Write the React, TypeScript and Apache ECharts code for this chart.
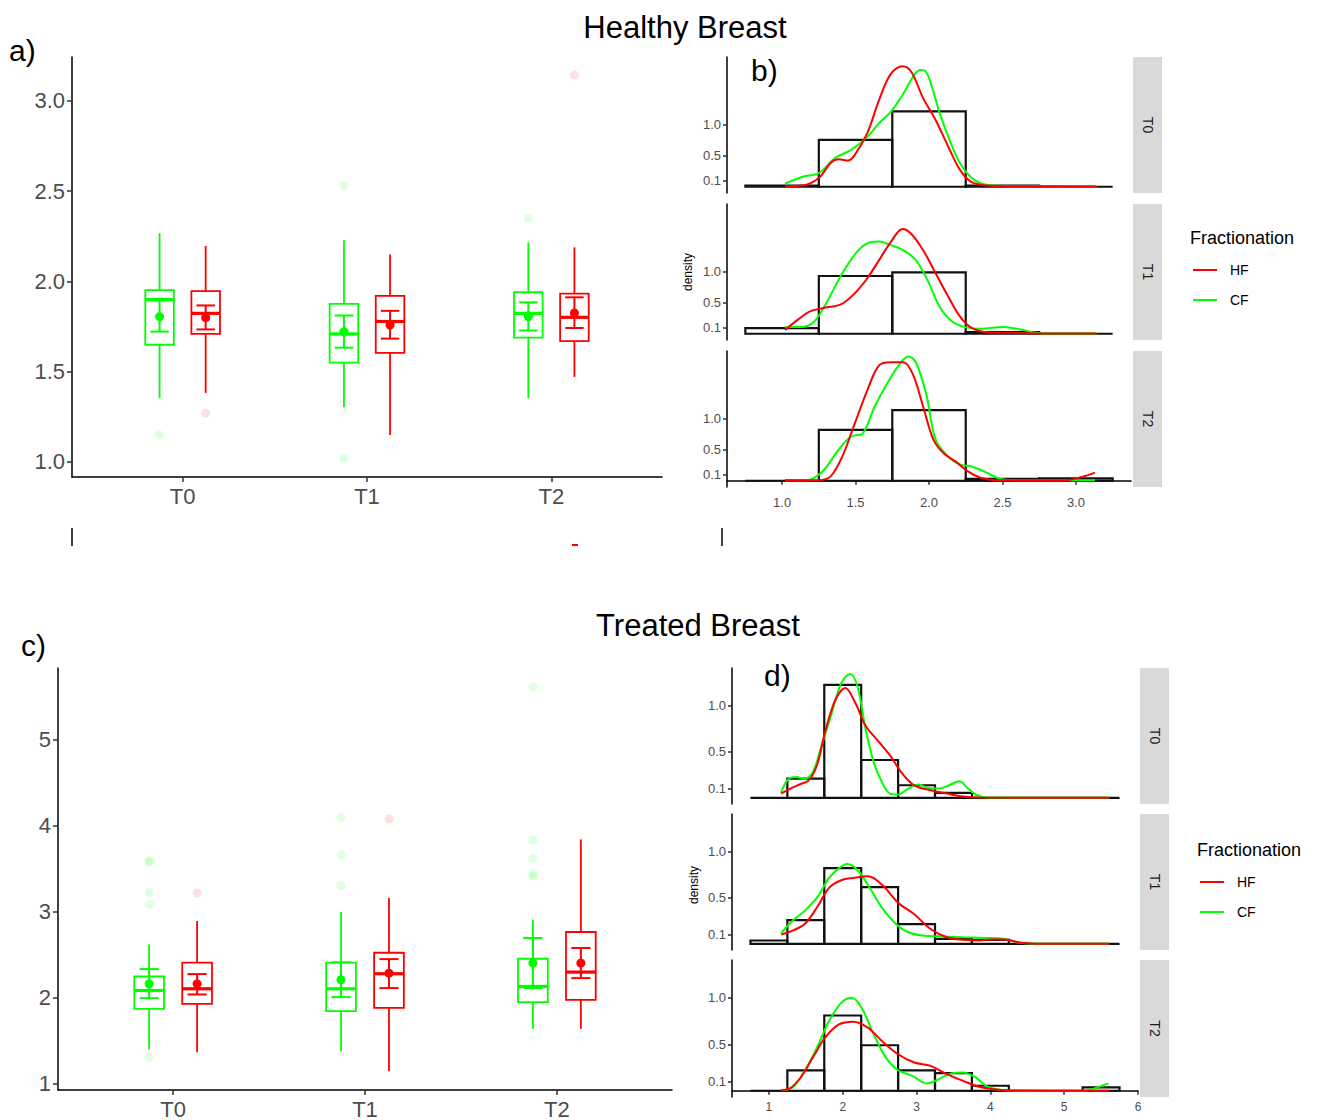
import React, { useEffect, useRef } from "react";
import * as echarts from "echarts";

const GREEN = "#00ff00";
const RED = "#ff0000";
const FONT = "Liberation Sans, Arial, sans-serif";

const timepoints = ["T0", "T1", "T2"];
const fractionations = ["HF", "CF"];

// Box stats per time point: [low whisker, q1, median, q3, high whisker, mean, err low, err high]
const healthyCF = [
  [1.352, 1.648, 1.899, 1.951, 2.267, 1.804, 1.721, 1.893],
  [1.302, 1.549, 1.708, 1.875, 2.227, 1.721, 1.632, 1.81],
  [1.352, 1.688, 1.822, 1.939, 2.215, 1.804, 1.727, 1.883],
];
const healthyHF = [
  [1.381, 1.708, 1.822, 1.945, 2.196, 1.798, 1.733, 1.866],
  [1.148, 1.603, 1.777, 1.919, 2.148, 1.757, 1.682, 1.836],
  [1.47, 1.668, 1.8, 1.931, 2.188, 1.824, 1.741, 1.911],
];
const healthyCFOutliers = [[1.148], [2.532, 1.02], [2.35]];
const healthyHFOutliers = [[1.269], [], [3.144]];

const treatedCF = [
  [1.40, 1.874, 2.087, 2.25, 2.623, 2.165, 1.998, 2.336],
  [1.381, 1.847, 2.107, 2.41, 3.0, 2.212, 2.01, 2.414],
  [1.641, 1.951, 2.134, 2.456, 2.911, 2.406, 2.115, 2.697],
];
const treatedHF = [
  [1.369, 1.932, 2.107, 2.41, 2.895, 2.165, 2.041, 2.278],
  [1.148, 1.885, 2.282, 2.526, 3.163, 2.289, 2.115, 2.452],
  [1.641, 1.979, 2.301, 2.767, 3.843, 2.406, 2.231, 2.581],
];
const treatedCFOutliers = [[3.6, 3.58, 3.225, 3.089, 1.311], [4.099, 3.668, 3.307], [5.614, 3.835, 3.621, 3.447, 3.416]];
const treatedHFOutliers = [[3.221], [4.08], []];

// Histograms (density scale)
const histEdgesB = [0.75, 1.25, 1.75, 2.25, 2.75, 3.25];
const histB_T0 = [0.02, 0.75, 1.21, 0.02, 0];
const histB_T1 = [0.09, 0.926, 0.984, 0.026, 0];
const histB_T2 = [0, 0.815, 1.132, 0.03, 0.037];

const histEdgesD = [0.75, 1.25, 1.75, 2.25, 2.75, 3.25, 3.75, 4.25, 4.75, 5.25, 5.75];
const histD_T0 = [0, 0.207, 1.225, 0.41, 0.136, 0.054, 0, 0, 0, 0];
const histD_T1 = [0.036, 0.257, 0.82, 0.614, 0.214, 0.054, 0.043, 0, 0, 0];
const histD_T2 = [0, 0.22, 0.81, 0.49, 0.22, 0.19, 0.054, 0, 0, 0.036];

// Density curves [x, density]
const densB_T0_HF = [[1.02,0.01],[1.14,0.02],[1.25,0.14],[1.33,0.38],[1.385,0.44],[1.45,0.42],[1.495,0.51],[1.58,0.86],[1.66,1.39],[1.74,1.81],[1.82,1.93],[1.88,1.84],[1.96,1.42],[2.045,1.07],[2.13,0.65],[2.21,0.275],[2.29,0.074],[2.4,0.02],[2.51,0.01],[3.14,0.005]];
const densB_T0_CF = [[1.02,0.05],[1.14,0.16],[1.25,0.22],[1.36,0.46],[1.47,0.59],[1.58,0.8],[1.66,1.02],[1.74,1.2],[1.825,1.49],[1.89,1.76],[1.94,1.87],[1.98,1.84],[2.02,1.6],[2.07,1.2],[2.14,0.75],[2.21,0.38],[2.29,0.14],[2.36,0.05],[2.44,0.02],[2.57,0.01],[3.14,0.005]];
const densB_T1_HF = [[1.02,0.06],[1.11,0.23],[1.19,0.36],[1.275,0.41],[1.4,0.47],[1.495,0.65],[1.58,0.89],[1.66,1.18],[1.74,1.47],[1.82,1.68],[1.88,1.6],[1.96,1.34],[2.045,0.97],[2.13,0.6],[2.21,0.28],[2.29,0.095],[2.4,0.026],[2.57,0.016],[2.73,0.005],[3.14,0.003]];
const densB_T1_CF = [[1.02,0.11],[1.14,0.11],[1.22,0.2],[1.3,0.49],[1.41,0.97],[1.52,1.34],[1.605,1.47],[1.66,1.48],[1.74,1.42],[1.825,1.34],[1.91,1.18],[1.99,0.86],[2.07,0.44],[2.155,0.2],[2.24,0.11],[2.35,0.08],[2.51,0.11],[2.62,0.07],[2.73,0.016],[2.84,0.005],[3.14,0.003]];
const densB_T2_HF = [[1.02,0.01],[1.25,0.01],[1.33,0.07],[1.41,0.39],[1.495,0.92],[1.58,1.45],[1.66,1.85],[1.74,1.9],[1.825,1.9],[1.89,1.71],[1.96,1.19],[2.03,0.66],[2.1,0.44],[2.18,0.31],[2.265,0.15],[2.35,0.05],[2.46,0.01],[2.93,0.01],[3.04,0.06],[3.13,0.13]];
const densB_T2_CF = [[1.02,0.01],[1.165,0.01],[1.275,0.15],[1.385,0.5],[1.47,0.71],[1.55,0.76],[1.63,1.19],[1.715,1.56],[1.8,1.87],[1.86,1.99],[1.91,1.9],[1.98,1.4],[2.045,0.66],[2.13,0.39],[2.21,0.26],[2.29,0.23],[2.375,0.15],[2.485,0.03],[2.6,0.01],[3.13,0.01]];

const densD_T0_HF = [[1.165,0.046],[1.29,0.1],[1.43,0.15],[1.54,0.19],[1.65,0.35],[1.76,0.71],[1.9,1.06],[2.035,1.19],[2.17,1.03],[2.31,0.78],[2.475,0.62],[2.64,0.46],[2.81,0.26],[2.97,0.136],[3.19,0.082],[3.41,0.046],[3.63,0.014],[3.85,0.003],[5.61,0]];
const densD_T0_CF = [[1.165,0.057],[1.26,0.2],[1.37,0.225],[1.48,0.207],[1.595,0.28],[1.7,0.53],[1.84,0.886],[1.98,1.243],[2.1,1.343],[2.2,1.207],[2.31,0.743],[2.42,0.386],[2.53,0.171],[2.64,0.046],[2.75,0.036],[2.89,0.1],[3.03,0.143],[3.16,0.107],[3.3,0.1],[3.44,0.136],[3.58,0.179],[3.69,0.107],[3.8,0.036],[3.96,0.003],[5.61,0]];
const densD_T1_HF = [[1.165,0.1],[1.32,0.143],[1.485,0.214],[1.65,0.393],[1.815,0.607],[1.98,0.689],[2.145,0.714],[2.34,0.732],[2.53,0.643],[2.75,0.446],[2.97,0.321],[3.19,0.16],[3.41,0.071],[3.63,0.043],[3.85,0.036],[4.07,0.05],[4.24,0.043],[4.4,0.014],[4.62,0.002],[5.61,0]];
const densD_T1_CF = [[1.165,0.114],[1.32,0.25],[1.485,0.357],[1.65,0.5],[1.815,0.714],[1.95,0.82],[2.06,0.864],[2.2,0.8],[2.365,0.607],[2.53,0.393],[2.7,0.232],[2.86,0.136],[3.08,0.089],[3.36,0.079],[3.63,0.071],[3.91,0.064],[4.18,0.054],[4.35,0.018],[4.57,0.002],[5.61,0]];
const densD_T2_HF = [[1.165,0.005],[1.29,0.029],[1.43,0.143],[1.595,0.357],[1.76,0.571],[1.95,0.714],[2.145,0.743],[2.34,0.679],[2.53,0.536],[2.75,0.393],[2.97,0.304],[3.19,0.268],[3.41,0.179],[3.63,0.107],[3.85,0.043],[4.07,0.014],[4.29,0.002],[5.61,0]];
const densD_T2_CF = [[1.165,0.005],[1.32,0.036],[1.485,0.214],[1.65,0.464],[1.815,0.75],[1.98,0.946],[2.12,1.0],[2.255,0.893],[2.42,0.607],[2.585,0.357],[2.75,0.221],[2.94,0.161],[3.14,0.079],[3.3,0.125],[3.47,0.186],[3.63,0.196],[3.8,0.143],[3.96,0.043],[4.18,0.007],[4.46,0],[5.28,0],[5.45,0.036],[5.6,0.079]];

const boxTicksA = [1, 1.5, 2, 2.5, 3];
const boxTicksC = [1, 2, 3, 4, 5];
const densTicks = [0.1, 0.5, 1.0];
const xTicksB = [1, 1.5, 2, 2.5, 3];
const xTicksD = [1, 2, 3, 4, 5, 6];

const BOX_W = 0.155;
const CAP_W = 0.1;
const DODGE = 0.125;

const makeBoxRenderer = (color: string) => (params: any, api: any) => {
  const x = api.value(0);
  const y = (i: number) => api.coord([x, api.value(i)])[1];
  const cx = api.coord([x, api.value(3)])[0];
  const half = api.size([BOX_W, 0])[0] / 2;
  const cap = api.size([CAP_W, 0])[0] / 2;
  const yLow = y(1), yQ1 = y(2), yMed = y(3), yQ3 = y(4), yHigh = y(5), yMean = y(6), yELo = y(7), yEHi = y(8);
  const ls = { stroke: color, lineWidth: 1.8 };
  return {
    type: "group",
    children: [
      { type: "line", shape: { x1: cx, y1: yHigh, x2: cx, y2: yQ3 }, style: ls },
      { type: "line", shape: { x1: cx, y1: yQ1, x2: cx, y2: yLow }, style: ls },
      { type: "rect", shape: { x: cx - half, y: yQ3, width: half * 2, height: yQ1 - yQ3 }, style: { stroke: color, lineWidth: 1.8, fill: "none" } },
      { type: "line", shape: { x1: cx - half, y1: yMed, x2: cx + half, y2: yMed }, style: { stroke: color, lineWidth: 3.2 } },
      { type: "line", shape: { x1: cx, y1: yEHi, x2: cx, y2: yELo }, style: { stroke: color, lineWidth: 2 } },
      { type: "line", shape: { x1: cx - cap, y1: yEHi, x2: cx + cap, y2: yEHi }, style: { stroke: color, lineWidth: 2 } },
      { type: "line", shape: { x1: cx - cap, y1: yELo, x2: cx + cap, y2: yELo }, style: { stroke: color, lineWidth: 2 } },
      { type: "circle", shape: { cx, cy: yMean, r: 4.5 }, style: { fill: color } },
    ],
  };
};

function boxSeries(stats: number[][], color: string, offset: number, axis: number) {
  return {
    type: "custom",
    xAxisIndex: axis,
    yAxisIndex: axis,
    silent: true,
    z: 3,
    dimensions: ["x", "low", "q1", "med", "q3", "high", "mean", "elo", "ehi"],
    encode: { x: 0, y: [1, 2, 3, 4, 5] },
    data: stats.map((s, i) => [i + 1 + offset, ...s]),
    renderItem: makeBoxRenderer(color),
  };
}

function outlierSeries(outs: number[][], color: string, offset: number, axis: number) {
  const data: number[][] = [];
  outs.forEach((arr, i) => arr.forEach((v) => data.push([i + 1 + offset, v])));
  return {
    type: "scatter",
    xAxisIndex: axis,
    yAxisIndex: axis,
    silent: true,
    z: 2,
    symbolSize: 9,
    itemStyle: { color, opacity: 0.12 },
    data,
  };
}

function histSeries(edges: number[], heights: number[], axis: number) {
  return {
    type: "custom",
    xAxisIndex: axis,
    yAxisIndex: axis,
    silent: true,
    z: 2,
    dimensions: ["x0", "x1", "h"],
    encode: { x: [0, 1], y: 2 },
    data: heights.map((h, i) => [edges[i], edges[i + 1], h]),
    renderItem: (params: any, api: any) => {
      const p0 = api.coord([api.value(0), 0]);
      const p1 = api.coord([api.value(1), api.value(2)]);
      return {
        type: "rect",
        shape: { x: p0[0], y: p1[1], width: p1[0] - p0[0], height: p0[1] - p1[1] },
        style: { stroke: "#111", lineWidth: 2.2, fill: "none" },
      };
    },
  };
}

function densSeries(data: number[][], color: string, axis: number, name: string) {
  return {
    type: "line",
    name,
    xAxisIndex: axis,
    yAxisIndex: axis,
    silent: true,
    z: 4,
    data,
    showSymbol: false,
    smooth: 0.35,
    lineStyle: { color, width: 2 },
    itemStyle: { color },
  };
}

const axisLine = { show: true, lineStyle: { color: "#000", width: 1.5 } };
const tickStyle = { lineStyle: { color: "#333", width: 1.5 } };

function boxXAxis(grid: number) {
  return {
    gridIndex: grid,
    type: "value",
    min: 0.4,
    max: 3.6,
    axisLine,
    splitLine: { show: false },
    axisTick: { show: true, length: 5, customValues: [1, 2, 3], ...tickStyle },
    axisLabel: {
      customValues: [1, 2, 3],
      formatter: (v: number) => timepoints[Math.round(v) - 1],
      fontSize: 22,
      color: "#4d4d4d",
      fontFamily: FONT,
      margin: 8,
    },
  };
}

function boxYAxis(grid: number, min: number, max: number, ticks: number[], digits: number) {
  return {
    gridIndex: grid,
    type: "value",
    min,
    max,
    axisLine,
    splitLine: { show: false },
    axisTick: { show: true, length: 5, customValues: ticks, ...tickStyle },
    axisLabel: {
      customValues: ticks,
      formatter: (v: number) => v.toFixed(digits),
      fontSize: 22,
      color: "#4d4d4d",
      fontFamily: FONT,
      margin: 7,
    },
  };
}

function facetXAxis(grid: number, min: number, max: number, ticks: number[] | null, digits: number, margin = 9, size = 13) {
  if (!ticks) {
    return { gridIndex: grid, type: "value", min, max, show: false, splitLine: { show: false } };
  }
  return {
    gridIndex: grid,
    type: "value",
    min,
    max,
    axisLine,
    splitLine: { show: false },
    axisTick: { show: true, length: 4, customValues: ticks, ...tickStyle },
    axisLabel: {
      customValues: ticks,
      formatter: (v: number) => v.toFixed(digits),
      fontSize: size,
      color: "#4d4d4d",
      fontFamily: FONT,
      margin,
    },
  };
}

function facetYAxis(grid: number, min: number, max: number) {
  return {
    gridIndex: grid,
    type: "value",
    min,
    max,
    axisLine,
    splitLine: { show: false },
    axisTick: { show: true, length: 4, customValues: densTicks, ...tickStyle },
    axisLabel: {
      customValues: densTicks,
      formatter: (v: number) => v.toFixed(1),
      fontSize: 13,
      color: "#4d4d4d",
      fontFamily: FONT,
      margin: 6,
    },
  };
}

function txt(text: string, x: number, y: number, size: number, extra: any = {}) {
  return {
    type: "text",
    x,
    y,
    silent: true,
    style: {
      text,
      fontSize: size,
      fontFamily: FONT,
      fill: extra.fill || "#000",
      textAlign: extra.align || "left",
      textVerticalAlign: "middle",
    },
    rotation: extra.rotation || 0,
  };
}

function strip(x: number, y: number, w: number, h: number, label: string) {
  return [
    { type: "rect", silent: true, shape: { x, y, width: w, height: h }, style: { fill: "#d9d9d9" } },
    {
      type: "text",
      silent: true,
      x: x + w / 2,
      y: y + h / 2,
      rotation: -Math.PI / 2,
      style: { text: label, fontSize: 14, fontFamily: FONT, fill: "#1a1a1a", textAlign: "center", textVerticalAlign: "middle" },
    },
  ];
}

function legend(x: number, y: number) {
  return [
    txt("Fractionation", x, y, 18),
    { type: "line", silent: true, shape: { x1: x + 3, y1: y + 32, x2: x + 27, y2: y + 32 }, style: { stroke: RED, lineWidth: 2 } },
    txt(fractionations[0], x + 40, y + 32, 14),
    { type: "line", silent: true, shape: { x1: x + 3, y1: y + 62, x2: x + 27, y2: y + 62 }, style: { stroke: GREEN, lineWidth: 2 } },
    txt(fractionations[1], x + 40, y + 62, 14),
  ];
}

export default function App() {
  const ref = useRef<HTMLDivElement>(null);
  useEffect(() => {
    if (!ref.current) return;
    const chart = echarts.init(ref.current, undefined, { renderer: "svg" });
    const bMin = -0.1, bMax = 2.08;
    const dMin = -0.067, dMax = 1.407;
    const option: any = {
      animation: false,
      backgroundColor: "#fff",
      grid: [
        { left: 72, top: 57, width: 590, height: 420, outerBoundsMode: "none" },
        { left: 58, top: 668, width: 614, height: 422, outerBoundsMode: "none" },
        { left: 727, top: 57, width: 404, height: 136, outerBoundsMode: "none" },
        { left: 727, top: 204, width: 404, height: 136, outerBoundsMode: "none" },
        { left: 727, top: 351, width: 404, height: 136, outerBoundsMode: "none" },
        { left: 732, top: 668, width: 406, height: 136, outerBoundsMode: "none" },
        { left: 732, top: 814, width: 406, height: 136, outerBoundsMode: "none" },
        { left: 732, top: 960, width: 406, height: 137, outerBoundsMode: "none" },
      ],
      xAxis: [
        boxXAxis(0),
        boxXAxis(1),
        facetXAxis(2, 0.625, 3.375, null, 1),
        facetXAxis(3, 0.625, 3.375, null, 1),
        facetXAxis(4, 0.625, 3.375, xTicksB, 1),
        facetXAxis(5, 0.5, 6.0, null, 0),
        facetXAxis(6, 0.5, 6.0, null, 0),
        facetXAxis(7, 0.5, 6.0, xTicksD, 0, 4, 12),
      ],
      yAxis: [
        boxYAxis(0, 0.915, 3.243, boxTicksA, 1),
        boxYAxis(1, 0.93, 5.837, boxTicksC, 0),
        facetYAxis(2, bMin, bMax),
        facetYAxis(3, bMin, bMax),
        facetYAxis(4, bMin, bMax),
        facetYAxis(5, dMin, dMax),
        facetYAxis(6, dMin, dMax),
        facetYAxis(7, dMin, dMax),
      ],
      series: [
        outlierSeries(healthyCFOutliers, GREEN, -DODGE, 0),
        outlierSeries(healthyHFOutliers, RED, DODGE, 0),
        boxSeries(healthyCF, GREEN, -DODGE, 0),
        boxSeries(healthyHF, RED, DODGE, 0),
        outlierSeries(treatedCFOutliers, GREEN, -DODGE, 1),
        outlierSeries(treatedHFOutliers, RED, DODGE, 1),
        boxSeries(treatedCF, GREEN, -DODGE, 1),
        boxSeries(treatedHF, RED, DODGE, 1),
        histSeries(histEdgesB, histB_T0, 2),
        histSeries(histEdgesB, histB_T1, 3),
        histSeries(histEdgesB, histB_T2, 4),
        densSeries(densB_T0_CF, GREEN, 2, "CF"),
        densSeries(densB_T0_HF, RED, 2, "HF"),
        densSeries(densB_T1_CF, GREEN, 3, "CF"),
        densSeries(densB_T1_HF, RED, 3, "HF"),
        densSeries(densB_T2_CF, GREEN, 4, "CF"),
        densSeries(densB_T2_HF, RED, 4, "HF"),
        histSeries(histEdgesD, histD_T0, 5),
        histSeries(histEdgesD, histD_T1, 6),
        histSeries(histEdgesD, histD_T2, 7),
        densSeries(densD_T0_CF, GREEN, 5, "CF"),
        densSeries(densD_T0_HF, RED, 5, "HF"),
        densSeries(densD_T1_CF, GREEN, 6, "CF"),
        densSeries(densD_T1_HF, RED, 6, "HF"),
        densSeries(densD_T2_CF, GREEN, 7, "CF"),
        densSeries(densD_T2_HF, RED, 7, "HF"),
      ],
      graphic: [
        txt("Healthy Breast", 685, 27, 31, { align: "center" }),
        txt("Treated Breast", 698, 625, 31, { align: "center" }),
        txt("a)", 9, 50, 30),
        txt("b)", 751, 70, 30),
        txt("c)", 21, 645, 30),
        txt("d)", 764, 675, 30),
        txt("density", 688, 272, 12, { align: "center", rotation: Math.PI / 2 }),
        txt("density", 694, 885, 12, { align: "center", rotation: Math.PI / 2 }),
        ...strip(1133, 57, 29, 136, timepoints[0]),
        ...strip(1133, 204, 29, 136, timepoints[1]),
        ...strip(1133, 351, 29, 136, timepoints[2]),
        ...strip(1140, 668, 29, 136, timepoints[0]),
        ...strip(1140, 814, 29, 136, timepoints[1]),
        ...strip(1140, 960, 29, 137, timepoints[2]),
        ...legend(1190, 238),
        ...legend(1197, 850),
        { type: "line", silent: true, shape: { x1: 72, y1: 528, x2: 72, y2: 546 }, style: { stroke: "#000", lineWidth: 1.5 } },
        { type: "line", silent: true, shape: { x1: 722, y1: 528, x2: 722, y2: 546 }, style: { stroke: "#000", lineWidth: 1.5 } },
        { type: "line", silent: true, shape: { x1: 572, y1: 545, x2: 578, y2: 545 }, style: { stroke: RED, lineWidth: 2 } },
      ],
    };
    chart.setOption(option);
    return () => chart.dispose();
  }, []);
  return <div ref={ref} style={{ position: "absolute", left: 0, top: 0, width: 1317, height: 1120, background: "#fff" }} />;
}
